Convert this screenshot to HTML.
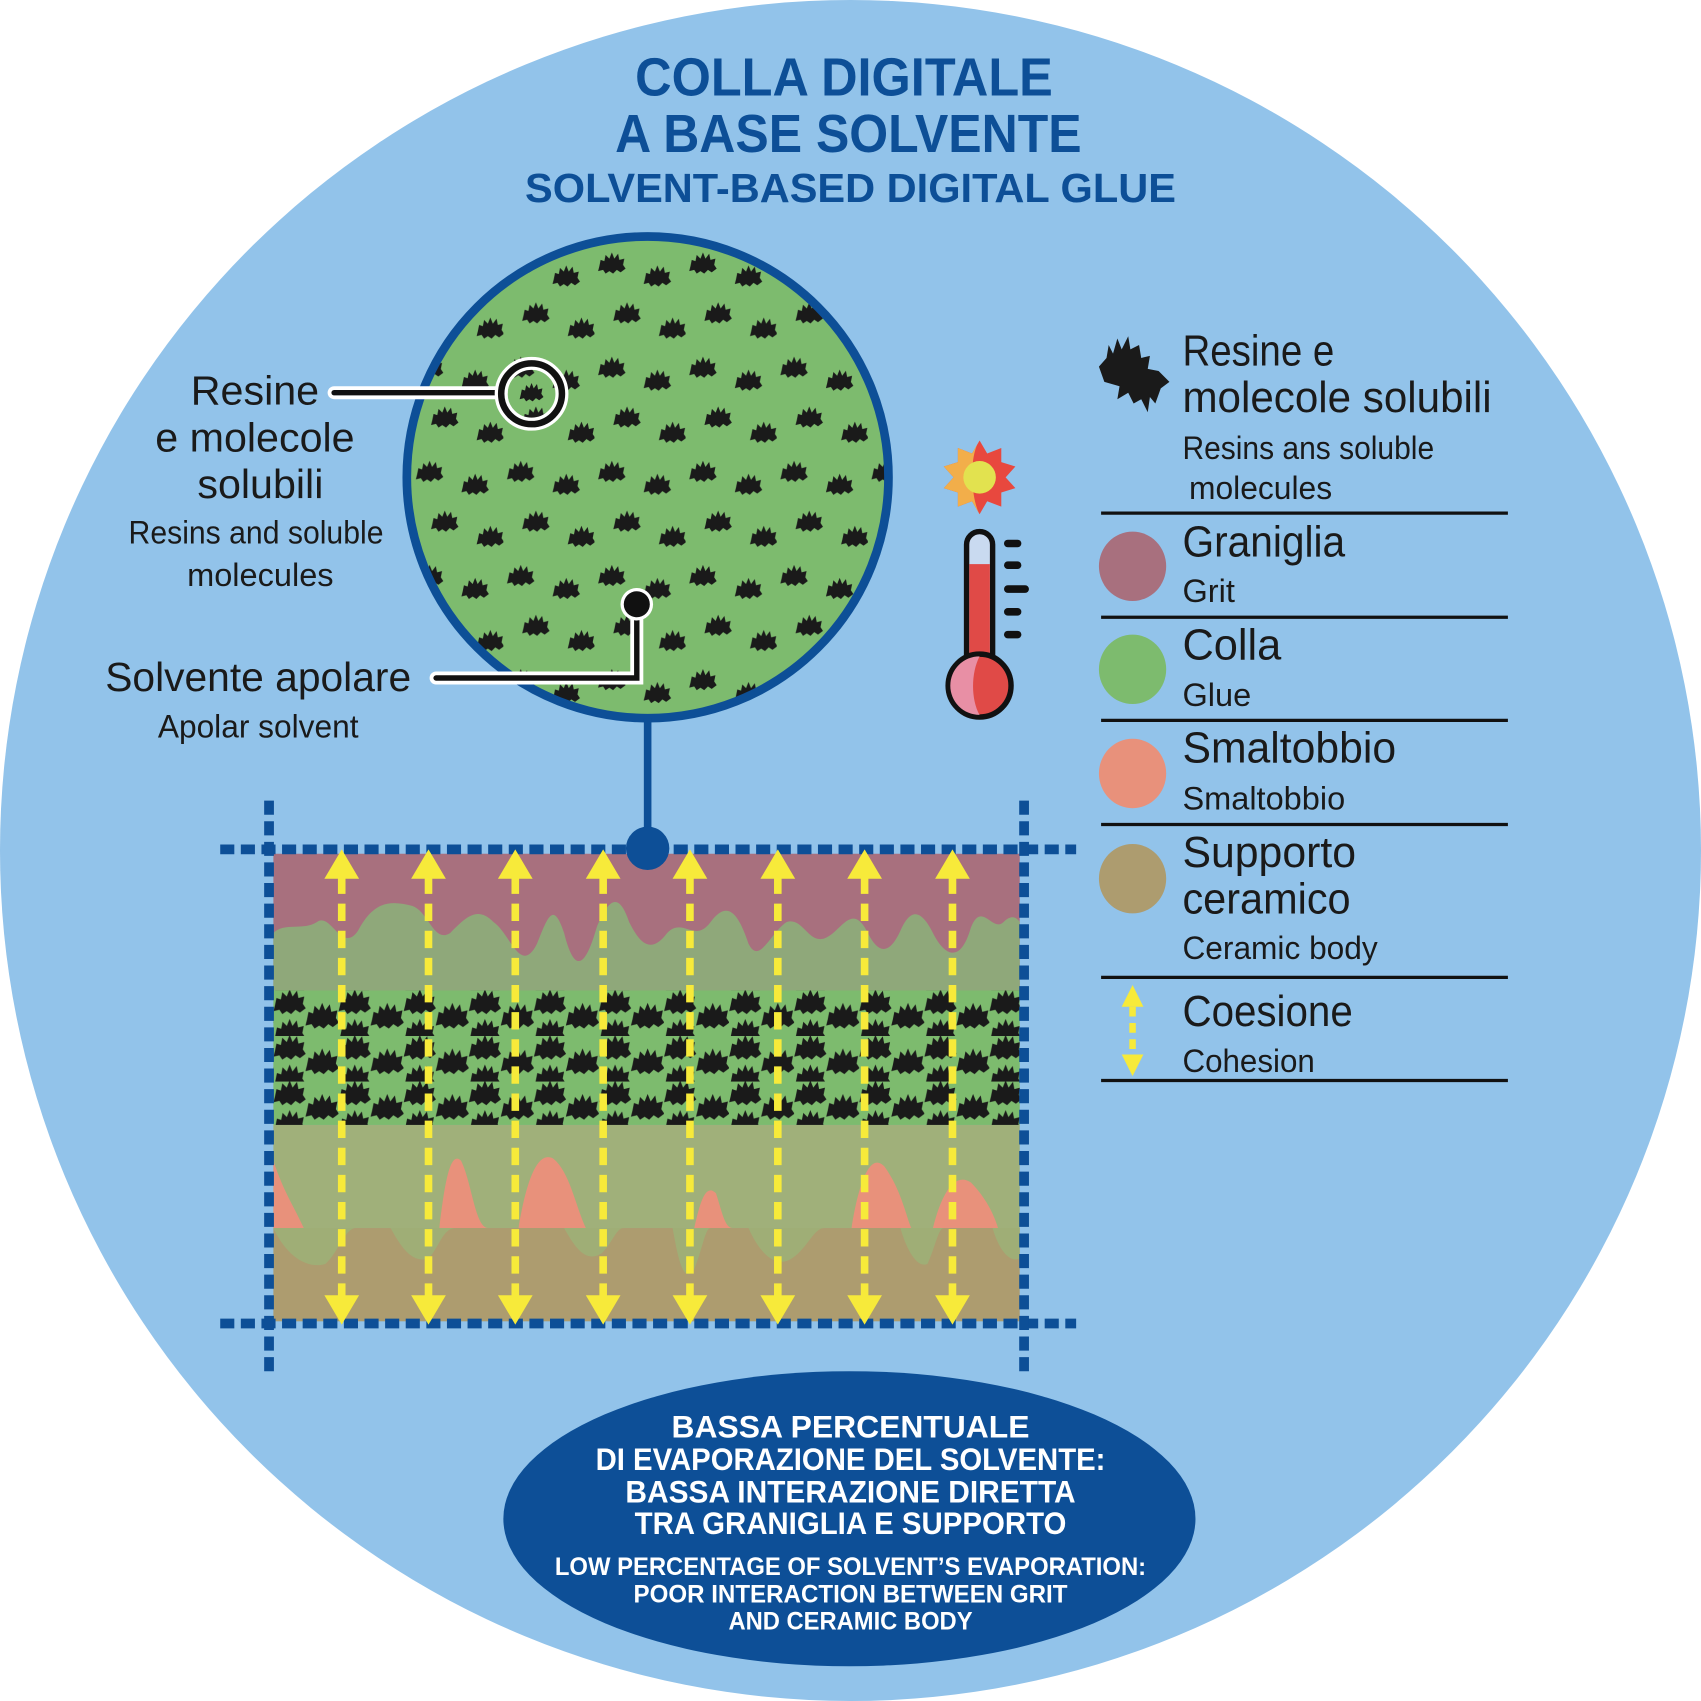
<!DOCTYPE html>
<html><head><meta charset="utf-8"><style>html,body{margin:0;padding:0;background:#fff}svg{display:block}</style></head>
<body>
<svg width="1701" height="1701" viewBox="0 0 1568 1568" xmlns="http://www.w3.org/2000/svg">
<defs>
<path id="b" d="M-10,2 L-9,-3 -6,-2 -5,-7 -2,-4 0,-9 2,-4 5,-8 6,-3 10,-4 9,1 11,4 7,7 4,5 1,8 -2,6 -5,8 -7,5 -11,6 Z" fill="#1a1a1a"/>
<pattern id="pc" x="380" y="225" width="84" height="96" patternUnits="userSpaceOnUse">
<g transform="translate(16,18) scale(1.15)"><use href="#b"/></g><g transform="translate(58,30) scale(1.15)"><use href="#b"/></g>
<g transform="translate(30,64) scale(1.15)"><use href="#b"/></g><g transform="translate(72,78) scale(1.15)"><use href="#b"/></g>
</pattern>
<pattern id="pb" x="252" y="913" width="60" height="42" patternUnits="userSpaceOnUse">
<g transform="translate(15,11) scale(1.35)"><use href="#b"/></g>
<g transform="translate(45,24) scale(1.4)"><use href="#b"/></g>
<g transform="translate(15,38) scale(1.3)"><use href="#b"/></g>
</pattern>
<clipPath id="cc"><circle cx="597" cy="440" r="222"/></clipPath>
<g id="arr">
<line x1="0" y1="808" x2="0" y2="1198" stroke="#f7ea3a" stroke-width="7" stroke-dasharray="16,9"/>
<polygon points="-16,810 16,810 0,783" fill="#f7ea3a"/>
<polygon points="-16,1194 16,1194 0,1221" fill="#f7ea3a"/>
</g>
</defs>
<rect width="1568" height="1568" fill="#fff"/>
<circle cx="784" cy="784" r="784" fill="#92c3ea"/>
<g font-family="'Liberation Sans',sans-serif" font-weight="bold" fill="#0d4f97" text-anchor="middle">
<text x="778" y="88" font-size="50" textLength="385" lengthAdjust="spacingAndGlyphs">COLLA DIGITALE</text>
<text x="782" y="140" font-size="50" textLength="430" lengthAdjust="spacingAndGlyphs">A BASE SOLVENTE</text>
<text x="784" y="186" font-size="38" textLength="600" lengthAdjust="spacingAndGlyphs">SOLVENT-BASED DIGITAL GLUE</text>
</g>
<circle cx="597" cy="440" r="222" fill="#7dbb6e"/>
<rect x="370" y="215" width="460" height="460" fill="url(#pc)" clip-path="url(#cc)"/>
<circle cx="597" cy="440" r="222" fill="none" stroke="#0d4f97" stroke-width="8"/>
<g fill="none" stroke-linecap="round">
<path d="M308,362 H462" stroke="#fff" stroke-width="12"/><path d="M308,362 H462" stroke="#111" stroke-width="5"/>
<circle cx="490" cy="363" r="28" stroke="#fff" stroke-width="12"/><circle cx="490" cy="363" r="28" stroke="#111" stroke-width="6"/>
<path d="M402,625 H587 V557" stroke="#fff" stroke-width="12"/><path d="M402,625 H587 V557" stroke="#111" stroke-width="5"/>
</g>
<circle cx="587" cy="557" r="15" fill="#fff"/><circle cx="587" cy="557" r="12" fill="#111"/>
<use href="#b" x="490" y="362"/>
<g font-family="'Liberation Sans Narrow','Liberation Sans',sans-serif" fill="#1a1a1a" text-anchor="middle">
<text x="235" y="373" font-size="38">Resine</text>
<text x="235" y="416" font-size="38">e molecole</text>
<text x="240" y="459" font-size="38">solubili</text>
<text x="236" y="501" font-size="30" textLength="235" lengthAdjust="spacingAndGlyphs">Resins and soluble</text>
<text x="240" y="540" font-size="30">molecules</text>
<text x="238" y="637" font-size="38" textLength="282" lengthAdjust="spacingAndGlyphs">Solvente apolare</text>
<text x="238" y="680" font-size="30" textLength="185" lengthAdjust="spacingAndGlyphs">Apolar solvent</text>
</g>
<line x1="597" y1="662" x2="597" y2="780" stroke="#0d4f97" stroke-width="7"/>
<rect x="252" y="787" width="688" height="126" fill="#a8707e"/>
<path d="M252,913 V860 C262,850 280,858 292,850 C305,840 315,880 330,858 C345,830 360,830 380,835 C395,840 400,870 415,860 C430,845 440,835 455,850 C470,860 480,900 495,870 C505,845 510,830 520,860 C530,900 540,890 550,855 C560,830 570,820 580,850 C590,870 600,880 615,860 C630,845 640,870 655,850 C670,830 680,840 690,870 C700,890 710,860 725,850 C740,845 745,870 760,865 C775,860 785,830 800,860 C810,880 820,880 830,858 C840,835 850,840 860,860 C870,880 885,890 895,855 C905,830 915,860 925,850 C935,840 940,850 940,850 V913 Z" fill="#8fa87a"/>
<rect x="252" y="913" width="688" height="124" fill="#7dbb6e"/>
<rect x="252" y="913" width="688" height="124" fill="url(#pb)"/>
<rect x="252" y="1037" width="688" height="95" fill="#a0b07a"/>
<path d="M252,1132 V1070 C262,1100 270,1110 280,1132 Z M405,1132 C410,1090 415,1060 425,1070 C435,1090 438,1132 450,1132 Z M478,1132 C485,1090 495,1060 510,1068 C525,1080 530,1110 540,1132 Z M640,1132 C645,1110 650,1090 660,1100 C665,1115 668,1132 675,1132 Z M785,1132 C790,1100 800,1060 815,1075 C830,1095 835,1120 840,1132 Z M860,1132 C868,1100 880,1080 895,1090 C905,1100 915,1115 920,1132 Z" fill="#e8917b"/>
<rect x="252" y="1132" width="688" height="86" fill="#ad9c6f"/>
<path d="M252,1132 C265,1160 285,1170 300,1165 C312,1155 318,1130 330,1132 Z M360,1132 C370,1150 380,1165 395,1160 C405,1150 408,1132 420,1132 Z M520,1132 C530,1150 540,1165 555,1155 C565,1145 568,1132 575,1132 Z M620,1132 C625,1160 630,1185 640,1170 C648,1150 650,1132 655,1132 Z M690,1132 C700,1155 715,1170 730,1160 C745,1150 750,1132 760,1132 Z M830,1132 C835,1150 845,1170 855,1165 C862,1150 865,1132 870,1132 Z M915,1132 C920,1150 930,1165 940,1160 V1132 Z" fill="#9db077" opacity="0.9"/>
<g stroke="#0d4f97" stroke-width="9" stroke-dasharray="13,6">
<line x1="203" y1="783" x2="992" y2="783"/>
<line x1="203" y1="1220" x2="992" y2="1220"/>
<line x1="248" y1="738" x2="248" y2="1266"/>
<line x1="944" y1="738" x2="944" y2="1266"/>
</g>
<circle cx="597" cy="782" r="20" fill="#0d4f97"/>
<use href="#arr" x="315"/><use href="#arr" x="395"/><use href="#arr" x="475"/><use href="#arr" x="556"/>
<use href="#arr" x="636"/><use href="#arr" x="717"/><use href="#arr" x="797"/><use href="#arr" x="878"/>
<g transform="translate(903,440)">
<polygon points="0,-34 7,-22 20,-27 20,-14 33,-10 24,0 33,10 20,14 20,27 7,22 0,34 -7,22 -20,27 -20,14 -33,10 -24,0 -33,-10 -20,-14 -20,-27 -7,-22" fill="#e8483e"/>
<path d="M0,-34 L-7,-22 -20,-27 -20,-14 -33,-10 -24,0 -33,10 -20,14 -20,27 -7,22 0,34 C-8,20 -10,-20 0,-34 Z" fill="#f2ae4a"/>
<circle r="15" fill="#e2e24f"/>
</g>
<g>
<rect x="891" y="490" width="24" height="140" rx="12" fill="#c9daf0" stroke="#111" stroke-width="5"/>
<rect x="893.5" y="520" width="19" height="112" fill="#e04a47"/>
<circle cx="903" cy="632" r="29" fill="#e04a47" stroke="#111" stroke-width="5"/>
<path d="M903,605 A27,27 0 0 0 903,659 C895,645 895,620 903,605 Z" fill="#e88fa5"/>
<g stroke="#111" stroke-width="7" stroke-linecap="round">
<line x1="929" y1="501" x2="938" y2="501"/><line x1="929" y1="521" x2="938" y2="521"/>
<line x1="929" y1="543" x2="945" y2="543"/><line x1="929" y1="564" x2="938" y2="564"/><line x1="929" y1="585" x2="938" y2="585"/>
</g>
</g>
<path d="M1013,338 L1020,330 1022,318 1026,326 1030,312 1034,322 1040,310 1042,322 1050,318 1052,330 1060,328 1058,340 1068,342 1078,352 1070,358 1065,372 1060,366 1058,380 1052,368 1045,372 1040,362 1030,368 1032,356 1018,352 Z" fill="#1a1a1a"/>
<g stroke="#111" stroke-width="3">
<line x1="1015" y1="473" x2="1390" y2="473"/><line x1="1015" y1="569" x2="1390" y2="569"/>
<line x1="1015" y1="664" x2="1390" y2="664"/><line x1="1015" y1="760" x2="1390" y2="760"/>
<line x1="1015" y1="901" x2="1390" y2="901"/><line x1="1015" y1="996" x2="1390" y2="996"/>
</g>
<ellipse cx="1044" cy="522" rx="31" ry="32" fill="#a8707e"/>
<ellipse cx="1044" cy="617" rx="31" ry="32" fill="#7dbb6e"/>
<ellipse cx="1044" cy="713" rx="31" ry="32" fill="#e8917b"/>
<ellipse cx="1044" cy="810" rx="31" ry="32" fill="#ad9c6f"/>
<line x1="1044" y1="928" x2="1044" y2="972" stroke="#f7ea3a" stroke-width="6" stroke-dasharray="9,6"/>
<polygon points="1034,928 1054,928 1044,908" fill="#f7ea3a"/><polygon points="1034,972 1054,972 1044,992" fill="#f7ea3a"/>
<g font-family="'Liberation Sans Narrow','Liberation Sans',sans-serif" fill="#1a1a1a">
<text x="1090" y="337" font-size="40" textLength="140" lengthAdjust="spacingAndGlyphs">Resine e</text>
<text x="1090" y="380" font-size="40" textLength="285" lengthAdjust="spacingAndGlyphs">molecole solubili</text>
<text x="1090" y="423" font-size="30" textLength="232" lengthAdjust="spacingAndGlyphs">Resins ans soluble</text>
<text x="1096" y="460" font-size="30" textLength="132" lengthAdjust="spacingAndGlyphs">molecules</text>
<text x="1090" y="513" font-size="40" textLength="150" lengthAdjust="spacingAndGlyphs">Graniglia</text>
<text x="1090" y="555" font-size="30">Grit</text>
<text x="1090" y="608" font-size="40">Colla</text>
<text x="1090" y="651" font-size="30">Glue</text>
<text x="1090" y="703" font-size="40" textLength="197" lengthAdjust="spacingAndGlyphs">Smaltobbio</text>
<text x="1090" y="746" font-size="30" textLength="150" lengthAdjust="spacingAndGlyphs">Smaltobbio</text>
<text x="1090" y="799" font-size="40" textLength="160" lengthAdjust="spacingAndGlyphs">Supporto</text>
<text x="1090" y="842" font-size="40" textLength="155" lengthAdjust="spacingAndGlyphs">ceramico</text>
<text x="1090" y="884" font-size="30" textLength="180" lengthAdjust="spacingAndGlyphs">Ceramic body</text>
<text x="1090" y="946" font-size="40" textLength="157" lengthAdjust="spacingAndGlyphs">Coesione</text>
<text x="1090" y="988" font-size="30" textLength="122" lengthAdjust="spacingAndGlyphs">Cohesion</text>
</g>
<ellipse cx="783" cy="1400" rx="319" ry="136" fill="#0d4f97"/>
<g font-family="'Liberation Sans Narrow','Liberation Sans',sans-serif" font-weight="bold" fill="#fff" text-anchor="middle">
<text x="784" y="1325" font-size="29" textLength="330" lengthAdjust="spacingAndGlyphs">BASSA PERCENTUALE</text>
<text x="784" y="1355" font-size="29" textLength="470" lengthAdjust="spacingAndGlyphs">DI EVAPORAZIONE DEL SOLVENTE:</text>
<text x="784" y="1385" font-size="29" textLength="415" lengthAdjust="spacingAndGlyphs">BASSA INTERAZIONE DIRETTA</text>
<text x="784" y="1414" font-size="29" textLength="398" lengthAdjust="spacingAndGlyphs">TRA GRANIGLIA E SUPPORTO</text>
<text x="784" y="1452" font-size="23" textLength="545" lengthAdjust="spacingAndGlyphs">LOW PERCENTAGE OF SOLVENT’S EVAPORATION:</text>
<text x="784" y="1477" font-size="23" textLength="400" lengthAdjust="spacingAndGlyphs">POOR INTERACTION BETWEEN GRIT</text>
<text x="784" y="1502" font-size="23" textLength="225" lengthAdjust="spacingAndGlyphs">AND CERAMIC BODY</text>
</g>
</svg>
</body></html>
